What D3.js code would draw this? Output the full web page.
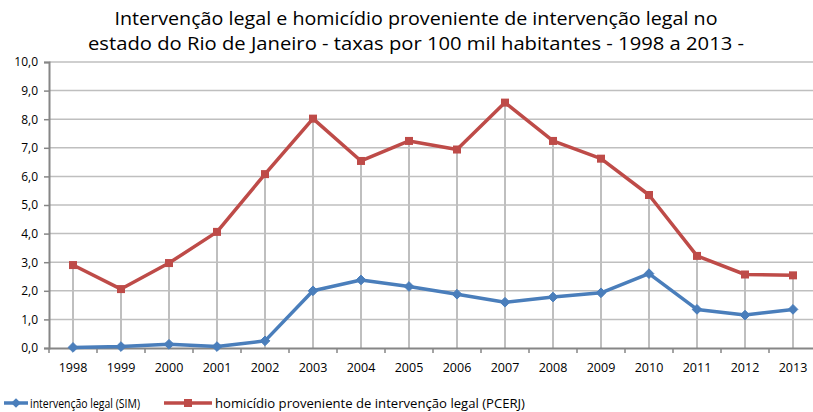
<!DOCTYPE html>
<html>
<head>
<meta charset="utf-8">
<style>
body { margin: 0; background: #fff; }
text { font-family: "Open Sans", "Noto Sans", sans-serif; fill: #000; }
.grid line { stroke: #bfbfbf; stroke-width: 1.5px; }
.drop { stroke: #bfbfbf; stroke-width: 2px; }
</style>
<script src="https://d3js.org/d3.v7.min.js"></script>
</head>
<body>
<svg width="813" height="412"></svg>
<script>
var years = ["1998","1999","2000","2001","2002","2003","2004","2005","2006","2007","2008","2009","2010","2011","2012","2013"];
var sim = [0.02, 0.05, 0.13, 0.05, 0.25, 2.0, 2.38, 2.15, 1.88, 1.6, 1.78, 1.93, 2.6, 1.35, 1.15, 1.35];
var pcerj = [2.9, 2.06, 2.97, 4.06, 6.08, 8.02, 6.54, 7.24, 6.94, 8.58, 7.24, 6.62, 5.35, 3.22, 2.57, 2.54];
var yTicks = [0, 1, 2, 3, 4, 5, 6, 7, 8, 9, 10];
var titleLines = ["Intervenção legal e homicídio proveniente de intervenção legal no",
                  "estado do Rio de Janeiro - taxas por 100 mil habitantes - 1998 a 2013 -"];
var seriesNames = ["intervenção legal (SIM)", "homicídio proveniente de intervenção legal (PCERJ)"];

var svg = d3.select("svg");
var m = {left: 49, right: 817, top: 62, bottom: 348};

var x = d3.scaleBand().domain(years).range([m.left, m.right]);
var y = d3.scaleLinear().domain([0, 10]).range([m.bottom, m.top]);
var fmt = function(d) { return d3.format(".1f")(d).replace(".", ","); };

// title
svg.append("g").selectAll("text")
  .data(titleLines).enter().append("text")
    .attr("x", 416).attr("y", function(d, i) { return 25 + i * 25; })
    .attr("text-anchor", "middle")
    .style("font-size", "19px")
    .attr("textLength", function(d, i) { return i ? 656 : 603; })
    .attr("lengthAdjust", "spacingAndGlyphs")
    .text(function(d) { return d; });

// horizontal grid
svg.append("g").attr("class", "grid")
  .selectAll("line").data(yTicks.slice(1)).enter().append("line")
    .attr("x1", m.left).attr("x2", m.right)
    .attr("y1", function(d) { return y(d); }).attr("y2", function(d) { return y(d); });

// drop lines
svg.append("g").selectAll("line").data(years).enter().append("line")
    .attr("class", "drop")
    .attr("x1", function(d) { return x(d) + x.bandwidth() / 2; })
    .attr("x2", function(d) { return x(d) + x.bandwidth() / 2; })
    .attr("y1", function(d, i) { return y(pcerj[i]); })
    .attr("y2", m.bottom);

// y axis
var yAxis = svg.append("g")
    .attr("transform", "translate(" + m.left + ",0)")
    .call(d3.axisLeft(y).tickValues(yTicks).tickFormat(fmt).tickSize(5).tickPadding(6));
yAxis.select(".domain").attr("stroke", "#868686").attr("stroke-width", 2);
yAxis.selectAll(".tick line").attr("stroke", "#868686").attr("stroke-width", 1.5);
yAxis.selectAll(".tick text").style("font-size", "12px").style("font-family", "Open Sans, sans-serif");

// x axis
var xAxis = svg.append("g")
    .attr("transform", "translate(0," + m.bottom + ")")
    .call(d3.axisBottom(x).tickSize(0).tickPadding(15));
xAxis.select(".domain").attr("stroke", "#868686").attr("stroke-width", 2);
xAxis.selectAll(".tick text").style("font-size", "12.5px").style("font-family", "Open Sans, sans-serif");
xAxis.append("g").selectAll("line").data(years).enter().append("line")
    .attr("x1", function(d) { return x(d); }).attr("x2", function(d) { return x(d); })
    .attr("y1", 0).attr("y2", 5)
    .attr("stroke", "#868686").attr("stroke-width", 1.5);

var cx = function(d, i) { return x(years[i]) + x.bandwidth() / 2; };
var line = d3.line().x(cx).y(function(d) { return y(d); });

var blue = "#4a7ebb", red = "#be4b48";

svg.append("path").datum(sim)
    .attr("fill", "none").attr("stroke", blue).attr("stroke-width", 3.5)
    .attr("stroke-linejoin", "round").attr("d", line);
svg.append("g").selectAll("path").data(sim).enter().append("path")
    .attr("transform", function(d, i) { return "translate(" + cx(d, i) + "," + y(d) + ")"; })
    .attr("d", d3.symbol().type(d3.symbolDiamond2).size(60))
    .attr("fill", blue).attr("stroke", blue);

svg.append("path").datum(pcerj)
    .attr("fill", "none").attr("stroke", red).attr("stroke-width", 3.5)
    .attr("stroke-linejoin", "round").attr("d", line);
svg.append("g").selectAll("rect").data(pcerj).enter().append("rect")
    .attr("x", function(d, i) { return cx(d, i) - 4; })
    .attr("y", function(d) { return y(d) - 4; })
    .attr("width", 8).attr("height", 8)
    .attr("fill", red);

// legend
var legend = svg.append("g").attr("transform", "translate(0,403)");
var lg = [{x1: 4, x2: 28, c: blue, tx: 30, w: 110}, {x1: 164, x2: 212, c: red, tx: 215, w: 310}];
lg.forEach(function(l, i) {
  legend.append("line").attr("x1", l.x1).attr("x2", l.x2).attr("y1", 0).attr("y2", 0)
    .attr("stroke", l.c).attr("stroke-width", 3.5);
  if (i === 0) {
    legend.append("path").attr("transform", "translate(" + (l.x1 + l.x2) / 2 + ",0)")
      .attr("d", d3.symbol().type(d3.symbolDiamond2).size(60)).attr("fill", blue);
  } else {
    legend.append("rect").attr("x", (l.x1 + l.x2) / 2 - 4).attr("y", -4)
      .attr("width", 8).attr("height", 8).attr("fill", red);
  }
  legend.append("text").attr("x", l.tx).attr("y", 4.5)
    .style("font-size", "12px")
    .attr("textLength", l.w).attr("lengthAdjust", "spacingAndGlyphs")
    .text(seriesNames[i]);
});
</script>
</body>
</html>
